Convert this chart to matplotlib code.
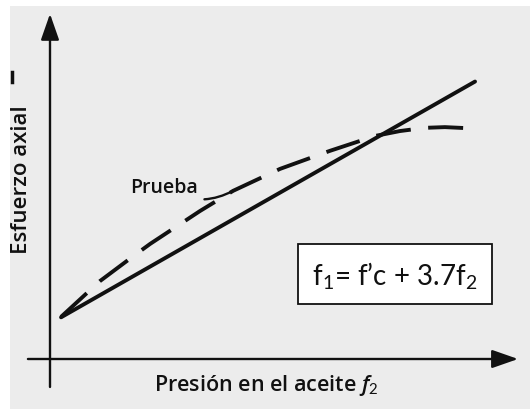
import numpy as np
import matplotlib.pyplot as plt
from matplotlib.patches import Rectangle

plt.rcParams['mathtext.fontset'] = 'custom'
plt.rcParams['mathtext.rm'] = 'Lato'
plt.rcParams['mathtext.it'] = 'Open Sans:italic:semibold'

# recta teorica f1 = f'c + 3.7 f2
fc = 1.0
k = 3.7
f2_linea = np.array([0.048, 1.848])
f1_linea = fc + k * f2_linea

# curva de prueba (lectura de la grafica)
f2_prueba = [0.048, 0.165, 0.217, 0.357, 0.435, 0.652, 0.796, 1.0, 1.217, 1.413, 1.522, 1.63, 1.717, 1.848]
f1_prueba = [1.19, 1.89, 2.2, 2.88, 3.25, 4.18, 4.75, 5.37, 5.88, 6.3, 6.44, 6.53, 6.55, 6.51]

fig = plt.figure(figsize=(5.3, 4.1), dpi=100)
fig.patch.set_facecolor('white')
# fondo gris del papel escaneado
fig.patches.append(Rectangle((10 / 530, 0), 1, 1 - 7 / 410, transform=fig.transFigure,
                             facecolor='#ececec', edgecolor='none', zorder=-10))

ax = fig.add_axes([0, 0, 1, 1])
ax.set_facecolor('none')
ax.axis('off')
ax.set_xlim(-50 / 230, 480 / 230)
ax.set_ylim(-50 / 35.4, 360 / 35.4)

tinta = '#111111'

# ejes con flecha
flecha = dict(arrowstyle='-|>,head_length=0.8,head_width=0.28', lw=1.7, color=tinta,
              shrinkA=0, shrinkB=0, mutation_scale=20)
ax.annotate('', xy=(0, 9.75), xytext=(0, -0.79), arrowprops=flecha)
ax.annotate('', xy=(2.035, 0), xytext=(-0.096, 0), arrowprops=flecha)

ax.plot(f2_linea, f1_linea, color=tinta, lw=2.8, solid_capstyle='round')
ax.plot(f2_prueba, f1_prueba, color=tinta, lw=2.8, linestyle=(0, (9, 4.5)))

ax.annotate('Prueba', xy=(0.796, 4.75), xytext=(0.494, 4.86), fontsize=14,
            family='Open Sans', weight='semibold', color=tinta, ha='center', va='center',
            arrowprops=dict(arrowstyle='-', lw=1.7, color=tinta, shrinkA=3, shrinkB=0,
                            connectionstyle='arc3,rad=0.3'))

ax.text(-0.122, 5.1, 'Esfuerzo axial', rotation=90, fontsize=16, family='Open Sans',
        weight='semibold', color=tinta, ha='center', va='center')
ax.text(0.94, -0.72, 'Presión en el aceite $f_2$', fontsize=15.5, family='Open Sans',
        weight='semibold', color=tinta, ha='center', va='center')

# recuadro con la ecuacion
fig.patches.append(Rectangle((298 / 530, 1 - 305 / 410), 194 / 530, 60 / 410,
                             transform=fig.transFigure, facecolor='white',
                             edgecolor=tinta, lw=1.3, zorder=3))
fig.text(395 / 530, 1 - 276 / 410, 'f$_1$= f’c + 3.7f$_2$', fontsize=20, family='Lato',
         color=tinta, ha='center', va='center', zorder=4)

# marca en el borde izquierdo
fig.lines.append(plt.Line2D([11.5 / 530, 11.5 / 530], [1 - 73 / 410, 1 - 83 / 410],
                            transform=fig.transFigure, color=tinta, lw=2.5))

fig.savefig('out.png', dpi=100)
